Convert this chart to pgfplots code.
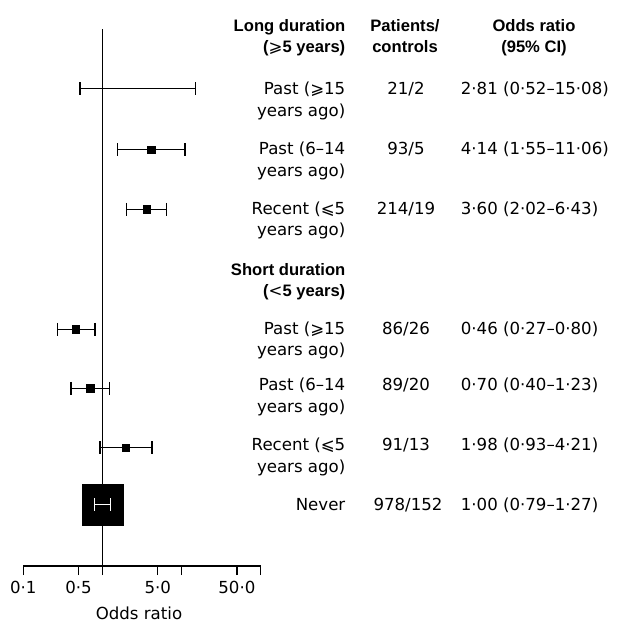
\documentclass[border=0pt]{standalone}
\usepackage{pgfplots}
\pgfplotsset{compat=1.18}
\usepackage{fontspec}
\setmainfont{DejaVu Sans}
\newfontfamily\hdrfont{Liberation Sans}
\newfontfamily\djv{DejaVu Sans}
\newcommand{\reg}{\fontsize{16.6bp}{21.5bp}\selectfont}
\newcommand{\hdr}{\hdrfont\bfseries\fontsize{16.6bp}{21bp}\selectfont}
\newcommand{\myge}{⩾}
\newcommand{\myle}{⩽}
\begin{document}
\begin{tikzpicture}[x=1bp,y=1bp]
\useasboundingbox (0,0) rectangle (617,624);
\begin{axis}[
  at={(23.3bp,58bp)}, anchor=south west, scale only axis,
  width=237.4bp, height=566bp,
  xmode=log, xmin=0.1, xmax=100, ymin=58, ymax=624,
  axis x line*=bottom, axis y line=none,
  xtick={0.1,0.5,1,5,10,50,100},
  xticklabels={0·1,0·5,,5·0,,50·0,},
  xminorticks=false,
  tick align=outside, major tick length=9bp,
  tick style={black, line width=1.5bp},
  axis line style={black, line width=1.5bp},
  xticklabel style={font=\reg, anchor=base, yshift=-18.3bp},
  xlabel={Odds ratio},
  xlabel style={font=\reg, at={(axis description cs:0.5,0)}, anchor=base, yshift=-53.3bp, xshift=-3bp},
  clip=false, clip marker paths=true,
]
% reference line at OR = 1
\addplot[black, line width=1.6bp] coordinates {(1,58)(1,594.7)};
% confidence intervals
\addplot[black, line width=1.5bp, mark=|, mark size=6.3bp] coordinates {(0.52,535.3)(15.08,535.3)};
\addplot[black, line width=1.5bp, mark=|, mark size=6.3bp] coordinates {(1.55,474.3)(11.06,474.3)};
\addplot[black, line width=1.5bp, mark=|, mark size=6.3bp] coordinates {(2.02,414.7)(6.43,414.7)};
\addplot[black, line width=1.5bp, mark=|, mark size=6.3bp] coordinates {(0.27,294.7)(0.80,294.7)};
\addplot[black, line width=1.5bp, mark=|, mark size=6.3bp] coordinates {(0.40,235.7)(1.23,235.7)};
\addplot[black, line width=1.5bp, mark=|, mark size=6.3bp] coordinates {(0.93,176.3)(4.21,176.3)};
% point estimates
\addplot[only marks, black, mark=square*, mark size=3.6bp] coordinates {(4.14,474.3)(3.60,414.7)(0.46,294.7)(0.70,235.7)(1.98,176.3)};
% reference category
\addplot[only marks, black, mark=square*, mark size=20.3bp] coordinates {(1.00,119.5)};
\addplot[white, line width=1.5bp, mark=|, mark size=6.3bp] coordinates {(0.79,119.5)(1.27,119.5)};
\end{axis}
% headers
\node[anchor=base east, font=\hdr, inner sep=0] at (345.5,592.3) {Long duration};
\node[anchor=base east, font=\hdr, inner sep=0] at (345.5,571.3) {({\djv\mdseries\myge}5 years)};
\node[anchor=base, font=\hdr, inner sep=0] at (405,592.3) {Patients/};
\node[anchor=base, font=\hdr, inner sep=0] at (405,571.3) {controls};
\node[anchor=base, font=\hdr, inner sep=0] at (534,592.3) {Odds ratio};
\node[anchor=base, font=\hdr, inner sep=0] at (534,571.3) {(95\% CI)};
\node[anchor=base east, font=\hdr, inner sep=0] at (345.5,348.7) {Short duration};
\node[anchor=base east, font=\hdr, inner sep=0] at (345.5,327.5) {({\djv\mdseries <}5 years)};
% row labels
\node[anchor=base east, font=\reg, inner sep=0] at (345.5,529) {Past (\myge15};
\node[anchor=base east, font=\reg, inner sep=0] at (345.5,507.3) {years ago)};
\node[anchor=base east, font=\reg, inner sep=0] at (345.5,469) {Past (6–14};
\node[anchor=base east, font=\reg, inner sep=0] at (345.5,447.3) {years ago)};
\node[anchor=base east, font=\reg, inner sep=0] at (345.5,409.7) {Recent (\myle5};
\node[anchor=base east, font=\reg, inner sep=0] at (345.5,388) {years ago)};
\node[anchor=base east, font=\reg, inner sep=0] at (345.5,289.7) {Past (\myge15};
\node[anchor=base east, font=\reg, inner sep=0] at (345.5,268) {years ago)};
\node[anchor=base east, font=\reg, inner sep=0] at (345.5,233.3) {Past (6–14};
\node[anchor=base east, font=\reg, inner sep=0] at (345.5,211.6) {years ago)};
\node[anchor=base east, font=\reg, inner sep=0] at (345.5,173) {Recent (\myle5};
\node[anchor=base east, font=\reg, inner sep=0] at (345.5,151.3) {years ago)};
\node[anchor=base east, font=\reg, inner sep=0] at (345.5,113) {Never};
% patients/controls
\node[anchor=base, font=\reg, inner sep=0] at (406,529) {21/2};
\node[anchor=base, font=\reg, inner sep=0] at (406,469) {93/5};
\node[anchor=base, font=\reg, inner sep=0] at (406,409.7) {214/19};
\node[anchor=base, font=\reg, inner sep=0] at (406,289.7) {86/26};
\node[anchor=base, font=\reg, inner sep=0] at (406,233.3) {89/20};
\node[anchor=base, font=\reg, inner sep=0] at (406,173) {91/13};
\node[anchor=base, font=\reg, inner sep=0] at (408,113) {978/152};
% odds ratios
\node[anchor=base west, font=\reg, inner sep=0] at (460.7,529) {2·81 (0·52–15·08)};
\node[anchor=base west, font=\reg, inner sep=0] at (460.7,469) {4·14 (1·55–11·06)};
\node[anchor=base west, font=\reg, inner sep=0] at (460.7,409.7) {3·60 (2·02–6·43)};
\node[anchor=base west, font=\reg, inner sep=0] at (460.7,289.7) {0·46 (0·27–0·80)};
\node[anchor=base west, font=\reg, inner sep=0] at (460.7,233.3) {0·70 (0·40–1·23)};
\node[anchor=base west, font=\reg, inner sep=0] at (460.7,173) {1·98 (0·93–4·21)};
\node[anchor=base west, font=\reg, inner sep=0] at (460.7,113) {1·00 (0·79–1·27)};
\end{tikzpicture}
\end{document}
